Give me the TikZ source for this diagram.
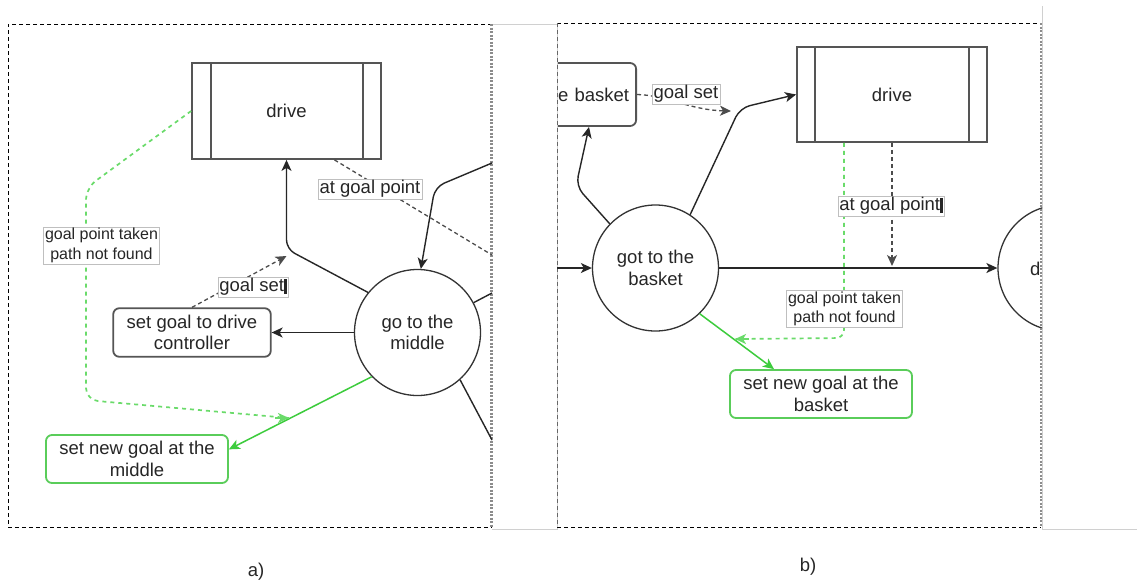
\documentclass[tikz,border=0pt]{standalone}
\usepackage{fontspec}
\setmainfont{Liberation Sans}
\usetikzlibrary{arrows.meta}

\definecolor{okgreen}{HTML}{3DCC3D}
\definecolor{boxgreen}{HTML}{5ACD5A}
\definecolor{dashgreen}{HTML}{6ADB6A}
\definecolor{edgegrey}{HTML}{555555}
\definecolor{screengrey}{HTML}{D0D0D0}

\begin{document}
\begin{tikzpicture}[x=1pt,y=-1pt,
  every node/.style={font=\fontsize{18.5}{21.5}\selectfont, text=black!85},
  procbox/.style={draw=edgegrey, line width=1.8pt, minimum width=189pt, minimum height=96pt, inner sep=0pt},
  state/.style={circle, draw=black!80, line width=1.3pt, minimum size=126pt, inner sep=0pt, align=center},
  task/.style={draw=edgegrey, line width=1.8pt, rounded corners=6pt, align=center, inner sep=0pt},
  newgoal/.style={task, draw=boxgreen},
  lbl/.style={fill=white, draw=black!25, line width=0.6pt, inner sep=1.5pt, align=center},
  smalllbl/.style={lbl, font=\fontsize{16}{19.5}\selectfont},
  link/.style={draw=black!85, line width=1.4pt},
  tip/.style={-{Stealth[length=11pt,width=10pt,inset=3pt]}},
  arr/.style={link, tip},
  dlink/.style={draw=black!70, line width=1.3pt, dash pattern=on 4pt off 3pt},
  glink/.style={draw=okgreen, line width=1.5pt, tip},
  gdash/.style={draw=dashgreen, line width=1.7pt, dash pattern=on 4pt off 4pt},
  frame/.style={draw=black, line width=1pt, dash pattern=on 4pt off 3pt},
  frameedge/.style={draw=black!45, line width=2.4pt, dash pattern=on 2pt off 1.5pt},
  screen/.style={draw=screengrey, line width=0.9pt}
]
\fill[white] (0,0) rectangle (1137,582);
\useasboundingbox (0,0) rectangle (1137,582);

% ---------- screen outlines ----------
\draw[screen] (492,24) -- (557,24) -- (557,529) -- (492,529);
\draw[screen] (1042,6) -- (1042,529) -- (1137,529);

% ---------- panel a ----------
\draw[frame] (492,24) -- (8,24) -- (8,527) -- (492,527);
\draw[frameedge] (491.5,24) -- (491.5,527);

\node[procbox] (drvA) at (286.5,111) {drive};
\draw[edgegrey, line width=1.6pt] ([xshift=20pt]drvA.north west) -- ([xshift=20pt]drvA.south west)
      ([xshift=-19pt]drvA.north east) -- ([xshift=-19pt]drvA.south east);
\node[state] (gm) at (417.5,332.5) {go to the\\middle};
\node[task, minimum width=157.5pt, minimum height=48.5pt] (sgA) at (192,332.5) {set goal to drive\\controller};
\node[newgoal, minimum width=182pt, minimum height=48pt] (gnA) at (137,459) {set new goal at the\\middle};

\coordinate (inA) at (492,163);
\coordinate (outA1) at (492,293);
\coordinate (outA2) at (492,440);
\coordinate (atA) at (492,255);
\coordinate (gsA) at (286.5,256);
\coordinate (gtA) at (289,418);

\draw[arr, rounded corners=9pt] (gm.141) -- (drvA.south |- 0,249) -- (drvA.south);
\draw[arr, rounded corners=10pt] (inA) -- (435,187) -- (gm.87);
\draw[link] (gm.28) -- (outA1);
\draw[link] (gm.-48) -- (outA2);
\draw[arr] (gm.west) -- (sgA.east);
\draw[dlink, tip] (sgA.north) -- (gsA);
\draw[dlink] ([xshift=48pt]drvA.south) -- (atA);
\draw[glink] (gm.-136) -- (gnA.6);
\draw[gdash, rounded corners=12pt] (drvA.west) -- (86,188) -- (86,400) -- (gtA);
\draw[draw=dashgreen, line width=1.7pt, tip] ([xshift=-14pt]gtA) -- (gtA);

\node[lbl] (lAgs) at (253,287) {goal set\rule[-2pt]{2.5pt}{15pt}};
\node[lbl] (lAat) at (370,189) {at goal point};
\node[smalllbl] (lAgp) at (101.5,245.5) {goal point taken\\path not found};

\node (capA) at (256,572) {a)};

% ---------- panel b ----------
\draw[frame] (557,23) -- (1041,23);
\draw[frame] (557,527) -- (1041,527);
\draw[draw=black!60, line width=0.9pt, dash pattern=on 4pt off 3pt] (557,23) -- (557,527);

\begin{scope}
  \clip (558,0) rectangle (1042,582);
  \node[task, text width=130pt, align=right, inner xsep=7pt, minimum height=63pt, anchor=east] (eb) at (637,94.5) {e basket};
  \node[state] (rc) at (1061,268) {};
  \node[anchor=west, inner sep=0pt] (rcT) at (1030,269) {d};
\end{scope}
\draw[frameedge] (1041,23) -- (1041,527);

\node[procbox, minimum width=190pt, minimum height=95pt] (drvB) at (892,94.5) {drive};
\draw[edgegrey, line width=1.6pt] ([xshift=19pt]drvB.north west) -- ([xshift=19pt]drvB.south west)
      ([xshift=-19pt]drvB.north east) -- ([xshift=-19pt]drvB.south east);
\node[state] (gb) at (655.5,268) {got to the\\basket};
\node[newgoal, minimum width=182pt, minimum height=48pt] (gnB) at (821,394) {set new goal at the\\basket};

\coordinate (inB) at (557,268);
\coordinate (gsB) at (731,111);
\coordinate (atB) at (892,266);
\coordinate (gtB) at (735,339);

\draw[arr] (inB) -- (gb.west);
\draw[arr] (gb.east) -- (rc.west);
\draw[arr, rounded corners=10pt] (gb.57) -- (740,108) -- (drvB.west);
\draw[arr, rounded corners=10pt] (gb.136) -- (576,186) -- (eb.south -| 589,0);
\draw[dlink, tip] (eb.east) .. controls (665,95) and (690,110) .. (gsB);
\draw[dlink, tip] (drvB.south) -- (atB);
\draw[glink] (gb.-46) -- (gnB.north -| 774,0);
\draw[gdash, rounded corners=8pt] (drvB.south -| 844,0) -- (844,338) -- (gtB);
\draw[draw=dashgreen, line width=1.7pt, tip] ([xshift=14pt]gtB) -- (gtB);

\node[lbl] (lBgs) at (686,94) {goal set};
\node[lbl] (lBat) at (891,206) {at goal point\rule[-2pt]{2.5pt}{15pt}};
\node[smalllbl] (lBgp) at (844.5,309) {goal point taken\\path not found};

\node (capB) at (808,567) {b)};
\end{tikzpicture}
\end{document}
